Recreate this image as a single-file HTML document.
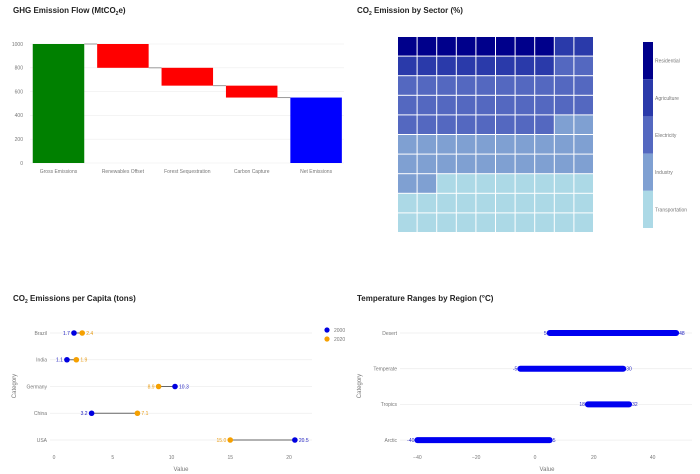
<!DOCTYPE html>
<html><head><meta charset="utf-8">
<style>
html,body{margin:0;padding:0;background:#fff;}
svg{display:block;font-family:"Liberation Sans",sans-serif;}
.t{fill:#777;}
.title{font-size:8px;font-weight:bold;fill:#222;}
</style></head>
<body>
<svg id="c" width="700" height="474" viewBox="0 0 700 474">
<text class="title" x="13" y="13">GHG Emission Flow (MtCO<tspan font-size="5" dy="2">2</tspan><tspan dy="-2">e)</tspan></text>
<text class="title" x="357" y="13">CO<tspan font-size="5" dy="2">2</tspan><tspan dy="-2"> Emission by Sector (%)</tspan></text>
<text class="title" x="13" y="301">CO<tspan font-size="5" dy="2">2</tspan><tspan dy="-2"> Emissions per Capita (tons)</tspan></text>
<text class="title" x="357" y="301">Temperature Ranges by Region (°C)</text>
<g id="g1"></g><g id="g2"></g><g id="g3"></g><g id="g4"></g>
</svg>
<script>
// Waterfall data
const wfCats = ["Gross Emissions","Renewables Offset","Forest Sequestration","Carbon Capture","Net Emissions"];
const wfVals = [1000,-200,-150,-100,550];
const wfTicks = [0,200,400,600,800,1000];
// Waffle data
const wafCats = ["Residential","Agriculture","Electricity","Industry","Transportation"];
const wafVals = [8,10,30,24,28];
// Dumbbell data
const dbCats = ["Brazil","India","Germany","China","USA"];
const db2000 = [1.7,1.1,10.3,3.2,20.5];
const db2020 = [2.4,1.9,8.9,7.1,15.0];
const dbTicks = [0,5,10,15,20];
// Range data
const rgCats = ["Desert","Temperate","Tropics","Arctic"];
const rgMin = [5,-5,18,-40];
const rgMax = [48,30,32,5];
const rgTicks = [-40,-20,0,20,40];

const NS="http://www.w3.org/2000/svg";
function mk(p,tag,a,txt){const e=document.createElementNS(NS,tag);for(const k in a)e.setAttribute(k,a[k]);if(txt!==undefined)e.textContent=txt;p.appendChild(e);return e;}
const FS=5;

// ---- Waterfall
(function(){
const g=document.getElementById('g1');
const y=v=>163-v*0.119, x0=26.3, step=64.4, bw=51.5;
wfTicks.forEach(t=>{
 const l=mk(g,'line',{x1:30,x2:344,y1:y(t),y2:y(t),stroke:'#eee','stroke-width':0.6});
 
 
 const tx=mk(g,'text',{class:'t',x:23,y:y(t)+1.8,'text-anchor':'end','font-size':FS},t);
 
 
});
let run=0;
wfCats.forEach((c,i)=>{
 const v=wfVals[i];let top,bot,col;
 if(i===0){top=v;bot=0;col='#008000';run=v;}
 else if(i===wfCats.length-1){top=v;bot=0;col='#0000ff';}
 else{top=run;bot=run+v;col='#ff0000';run=bot;}
 const cx=x0+step*(i+0.5);
 const r=mk(g,'rect',{x:cx-bw/2,y:y(top),width:bw,height:y(bot)-y(top),fill:col});
 
 
 if(i<wfCats.length-1){
  const lv=(i===0)?v:run;
  const cl=mk(g,'line',{x1:cx+bw/2,x2:cx+step-bw/2,y1:y(lv),y2:y(lv),stroke:'#999','stroke-width':1});
  
  
 }
 const tl=mk(g,'text',{class:'t',x:cx,y:173,'text-anchor':'middle','font-size':FS},c);
 
 
});
})();

// ---- Waffle
(function(){
const g=document.getElementById('g2');
const cols=['#00008b','#2a3aaa','#5468c0','#7fa0d2','#acd9e6'];
const x0=398,y0=37,cs=19.6;
let idx=0;
for(let k=wafCats.length-1;k>=0;k--){
 for(let n=0;n<wafVals[k];n++){
  const row=9-Math.floor(idx/10), col=9-(idx%10);
  const r=mk(g,'rect',{x:x0+col*cs,y:y0+row*cs,width:cs-1,height:cs-1,fill:cols[k]});
  
  
  idx++;
 }
}
const sh=37.2;
wafCats.forEach((c,i)=>{
 const r=mk(g,'rect',{x:643,y:42+i*sh,width:10,height:sh,fill:cols[i]});
 
 
 const t=mk(g,'text',{class:'t',x:655,y:42+i*sh+sh/2+2,'font-size':FS},c);
 
 
});
})();

// ---- Dumbbell
(function(){
const g=document.getElementById('g3');
const x=v=>54+v*11.75, y=i=>333+i*26.75;
dbTicks.forEach(t=>{
 const tx=mk(g,'text',{class:'t',x:x(t),y:459,'text-anchor':'middle','font-size':FS},t);
 
 
});
dbCats.forEach((c,i)=>{
 const gl=mk(g,'line',{x1:50,x2:312,y1:y(i),y2:y(i),stroke:'#eee','stroke-width':0.8});
 
 
 const lb=mk(g,'text',{class:'t',x:47,y:y(i)+1.8,'text-anchor':'end','font-size':FS},c);
 
 
 const a=db2000[i],b=db2020[i];
 const ln=mk(g,'line',{x1:x(a),x2:x(b),y1:y(i),y2:y(i),stroke:'#666','stroke-width':1});
 
 
 const p1=mk(g,'circle',{cx:x(a),cy:y(i),r:2.8,fill:'#0000e0'});
 
 
 const p2=mk(g,'circle',{cx:x(b),cy:y(i),r:2.8,fill:'#f5a000'});
 
 
 const aLeft=a<b;
 const l1=mk(g,'text',{x:aLeft?x(a)-4:x(a)+4,y:y(i)+1.8,'text-anchor':aLeft?'end':'start','font-size':FS,fill:'#2020c0'},a.toFixed(1));
 
 
 const l2=mk(g,'text',{x:aLeft?x(b)+4:x(b)-4,y:y(i)+1.8,'text-anchor':aLeft?'start':'end','font-size':FS,fill:'#e89a10'},b.toFixed(1));
 
 
});
const xt=mk(g,'text',{class:'t',x:181,y:471,'text-anchor':'middle','font-size':6},'Value');


const yt=mk(g,'text',{class:'t',x:16,y:386,'text-anchor':'middle','font-size':6,transform:'rotate(-90 16 386)'},'Category');


[['2000','#0000e0',330],['2020','#f5a000',339]].forEach(d=>{
 const c=mk(g,'circle',{cx:327,cy:d[2],r:2.6,fill:d[1]});
 
 
 const t=mk(g,'text',{class:'t',x:334,y:d[2]+1.8,'font-size':FS},d[0]);
 
 
});
})();

// ---- Range
(function(){
const g=document.getElementById('g4');
const x=v=>535+v*2.94, y=i=>333+i*35.7;
rgTicks.forEach(t=>{
 const tx=mk(g,'text',{class:'t',x:x(t),y:459,'text-anchor':'middle','font-size':FS},t===0?'0':(t<0?'−'+(-t):t));
 
 
});
rgCats.forEach((c,i)=>{
 const gl=mk(g,'line',{x1:400,x2:692,y1:y(i),y2:y(i),stroke:'#eee','stroke-width':0.8});
 
 
 const lb=mk(g,'text',{class:'t',x:397,y:y(i)+1.8,'text-anchor':'end','font-size':FS},c);
 
 
 const ln=mk(g,'line',{x1:x(rgMin[i]),x2:x(rgMax[i]),y1:y(i),y2:y(i),stroke:'#0000f0','stroke-width':6,'stroke-linecap':'round'});
 
 
 const a=mk(g,'text',{x:x(rgMin[i])-3,y:y(i)+1.8,'text-anchor':'end','font-size':FS,fill:'#2020c0'},rgMin[i]);
 
 
 const b=mk(g,'text',{x:x(rgMax[i])+3,y:y(i)+1.8,'font-size':FS,fill:'#2020c0'},rgMax[i]);
 
 
});
const xt=mk(g,'text',{class:'t',x:547,y:471,'text-anchor':'middle','font-size':6},'Value');


const yt=mk(g,'text',{class:'t',x:361,y:386,'text-anchor':'middle','font-size':6,transform:'rotate(-90 361 386)'},'Category');


})();
</script>
</body></html>
